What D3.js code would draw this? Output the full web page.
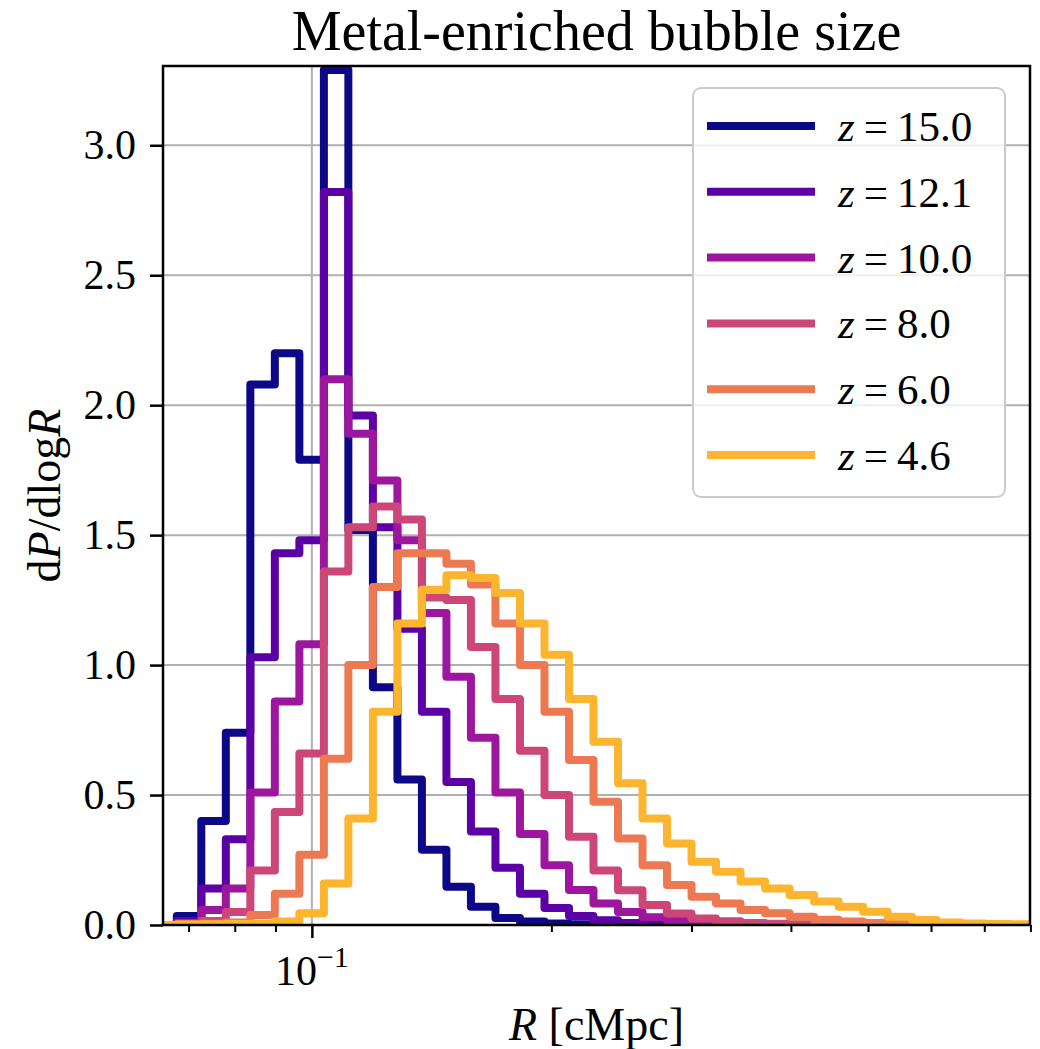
<!DOCTYPE html>
<html>
<head>
<meta charset="utf-8">
<script src="https://cdn.jsdelivr.net/npm/d3@7"></script>
<style>
  body { margin: 0; background: #fff; }
  svg text { font-family: "Liberation Serif", "DejaVu Serif", serif; fill: #000; }
</style>
</head>
<body>
<div id="chart"></div>
<script>
// bin edges of the histogram (cMpc), log-spaced as in the figure
const binEdges = [0.06302, 0.06765, 0.07262, 0.07796, 0.08369, 0.08984, 0.09645,
  0.10354, 0.11114, 0.11932, 0.12809, 0.13750, 0.14761, 0.15846, 0.17011, 0.18262,
  0.19605, 0.21046, 0.22591, 0.24253, 0.26036, 0.27949, 0.30003, 0.32208, 0.34576,
  0.37118, 0.39846, 0.42776, 0.45920, 0.49296, 0.52920, 0.56807, 0.60986, 0.65467,
  0.70279, 0.75447, 0.80990];

const redshifts = ["15.0", "12.1", "10.0", "8.0", "6.0", "4.6"];

// dP/dlogR per bin
const pdfZ150 = [0, 0.035, 0.40, 0.74, 2.08, 2.20, 1.79, 3.29, 1.52, 0.915, 0.56, 0.29,
  0.147, 0.07, 0.027, 0.013, 0.006, 0.003, 0.001, 0, 0, 0, 0, 0, 0, 0, 0, 0, 0, 0, 0, 0, 0, 0, 0, 0];
const pdfZ121 = [0, 0.015, 0.14, 0.33, 1.03, 1.43, 1.48, 2.82, 1.96, 1.53, 1.14, 0.82,
  0.55, 0.36, 0.22, 0.12, 0.065, 0.035, 0.018, 0.008, 0.004, 0.002, 0, 0, 0, 0, 0, 0, 0, 0, 0, 0, 0, 0, 0, 0];
const pdfZ100 = [0, 0.008, 0.058, 0.14, 0.51, 0.86, 1.08, 2.10, 1.89, 1.71, 1.48, 1.20,
  0.955, 0.72, 0.51, 0.35, 0.23, 0.135, 0.083, 0.05, 0.03, 0.018, 0.01, 0.006, 0.003, 0.002, 0, 0, 0, 0, 0, 0, 0, 0, 0, 0];
const pdfZ80 = [0, 0.005, 0.015, 0.05, 0.21, 0.435, 0.66, 1.36, 1.53, 1.61, 1.56, 1.26,
  1.25, 1.07, 0.87, 0.67, 0.50, 0.34, 0.21, 0.134, 0.077, 0.044, 0.025, 0.014, 0.008, 0.005, 0.003, 0.002, 0, 0, 0, 0, 0, 0, 0, 0];
const pdfZ60 = [0, 0.003, 0.005, 0.01, 0.038, 0.12, 0.27, 0.64, 1.0, 1.30, 1.43, 1.43,
  1.39, 1.31, 1.16, 1.0, 0.82, 0.635, 0.474, 0.333, 0.23, 0.154, 0.109, 0.083, 0.058, 0.045,
  0.032, 0.02, 0.013, 0.008, 0.005, 0.003, 0.002, 0.001, 0, 0];
const pdfZ46 = [0, 0.002, 0.003, 0.004, 0.005, 0.013, 0.045, 0.16, 0.41, 0.82, 1.16, 1.29,
  1.346, 1.335, 1.277, 1.16, 1.04, 0.87, 0.705, 0.545, 0.41, 0.314, 0.243, 0.205, 0.167, 0.14,
  0.115, 0.09, 0.07, 0.051, 0.032, 0.019, 0.01, 0.006, 0.004, 0.003];

const allPdfs = [pdfZ150, pdfZ121, pdfZ100, pdfZ80, pdfZ60, pdfZ46];

const yTicks = [0, 0.5, 1.0, 1.5, 2.0, 2.5, 3.0];
const xMajorTicks = [0.1];
const xMinorTicks = [0.07, 0.08, 0.09, 0.2, 0.3, 0.4, 0.5, 0.6, 0.7, 0.8];
const xDomain = [0.065, 0.799];
const yDomain = [0, 3.305];

const width = 1040, height = 1049;
const margin = { left: 163, right: 10, top: 66, bottom: 124 };
const plotW = width - margin.left - margin.right;
const plotH = height - margin.top - margin.bottom;

const svg = d3.select("#chart").append("svg")
  .attr("width", width)
  .attr("height", height);

const x = d3.scaleLog().domain(xDomain).range([margin.left, margin.left + plotW]);
const y = d3.scaleLinear().domain(yDomain).range([margin.top + plotH, margin.top]);

const colors = redshifts.map((d, i) => d3.interpolatePlasma(i / 6));

svg.append("defs").append("clipPath").attr("id", "plot-clip")
  .append("rect")
  .attr("x", margin.left).attr("y", margin.top)
  .attr("width", plotW).attr("height", plotH);

// grid
const grid = svg.append("g");
grid.selectAll("line.gy").data(yTicks.slice(1)).enter().append("line")
  .attr("x1", margin.left).attr("x2", margin.left + plotW)
  .attr("y1", d => y(d)).attr("y2", d => y(d))
  .attr("stroke", "#b0b0b0").attr("stroke-width", 2);
grid.selectAll("line.gx").data(xMajorTicks).enter().append("line")
  .attr("x1", d => x(d)).attr("x2", d => x(d))
  .attr("y1", margin.top).attr("y2", margin.top + plotH)
  .attr("stroke", "#b0b0b0").attr("stroke-width", 2);

// step histograms
function stepPoints(vals) {
  const pts = [[binEdges[0], 0]];
  vals.forEach((v, i) => {
    pts.push([binEdges[i], v]);
    pts.push([binEdges[i + 1], v]);
  });
  pts.push([binEdges[binEdges.length - 1], 0]);
  return pts;
}

const line = d3.line().x(d => x(d[0])).y(d => y(d[1]));

svg.append("g").attr("clip-path", "url(#plot-clip)")
  .selectAll("path").data(allPdfs).enter().append("path")
  .attr("d", d => line(stepPoints(d)))
  .attr("fill", "none")
  .attr("stroke", (d, i) => colors[i])
  .attr("stroke-width", 8)
  .attr("stroke-linejoin", "round");

// axes
const yAxis = d3.axisLeft(y).tickValues(yTicks).tickFormat(d3.format(".1f"))
  .tickSize(13).tickPadding(14);
const gy = svg.append("g").attr("transform", `translate(${margin.left},0)`).call(yAxis);
gy.select(".domain").remove();
gy.selectAll(".tick line").attr("stroke", "#000").attr("stroke-width", 2.5);
gy.selectAll(".tick text").attr("font-size", 42).style("font-family", "Liberation Serif");

const xAxisMinor = d3.axisBottom(x).tickValues(xMinorTicks).tickFormat("").tickSize(7);
const gxm = svg.append("g").attr("transform", `translate(0,${margin.top + plotH})`).call(xAxisMinor);
gxm.select(".domain").remove();
gxm.selectAll(".tick line").attr("stroke", "#000").attr("stroke-width", 2);

const xAxis = d3.axisBottom(x).tickValues(xMajorTicks).tickFormat("").tickSize(13);
const gx = svg.append("g").attr("transform", `translate(0,${margin.top + plotH})`).call(xAxis);
gx.select(".domain").remove();
gx.selectAll(".tick line").attr("stroke", "#000").attr("stroke-width", 2.5);

// 10^-1 label
const xl = svg.append("text")
  .attr("x", x(0.1)).attr("y", margin.top + plotH + 60)
  .attr("text-anchor", "middle").attr("font-size", 42);
xl.append("tspan").text("10");
xl.append("tspan").attr("font-size", 30).attr("dy", -18).text("\u22121");

// frame
svg.append("rect")
  .attr("x", margin.left).attr("y", margin.top)
  .attr("width", plotW).attr("height", plotH)
  .attr("fill", "none").attr("stroke", "#000").attr("stroke-width", 2.5);

// title
svg.append("text")
  .attr("x", margin.left + plotW / 2).attr("y", 50)
  .attr("text-anchor", "middle").attr("font-size", 56)
  .text("Metal-enriched bubble size");

// x label
const xlab = svg.append("text")
  .attr("x", margin.left + plotW / 2).attr("y", 1040)
  .attr("text-anchor", "middle").attr("font-size", 46);
xlab.append("tspan").attr("font-style", "italic").text("R");
xlab.append("tspan").text(" [cMpc]");

// y label
const ylab = svg.append("text")
  .attr("transform", `translate(60,${margin.top + plotH / 2}) rotate(-90)`)
  .attr("text-anchor", "middle").attr("font-size", 46);
ylab.append("tspan").text("d");
ylab.append("tspan").attr("font-style", "italic").text("P");
ylab.append("tspan").text("/dlog");
ylab.append("tspan").attr("font-style", "italic").text("R");

// legend
const lg = svg.append("g");
lg.append("rect")
  .attr("x", 693).attr("y", 88).attr("width", 312).attr("height", 409)
  .attr("rx", 8).attr("ry", 8)
  .attr("fill", "#fff").attr("fill-opacity", 0.8)
  .attr("stroke", "#cccccc").attr("stroke-width", 2);
const items = lg.selectAll("g.item").data(redshifts).enter().append("g")
  .attr("transform", (d, i) => `translate(0,${126 + i * 65.8})`);
items.append("line")
  .attr("x1", 707).attr("x2", 815).attr("y1", 0).attr("y2", 0)
  .attr("stroke", (d, i) => colors[i]).attr("stroke-width", 8);
const it = items.append("text").attr("x", 838).attr("y", 15).attr("font-size", 43);
it.append("tspan").attr("font-style", "italic").text("z");
it.append("tspan").attr("dx", 9).text("=");
it.append("tspan").attr("dx", 9).text(d => d);
</script>
</body>
</html>
